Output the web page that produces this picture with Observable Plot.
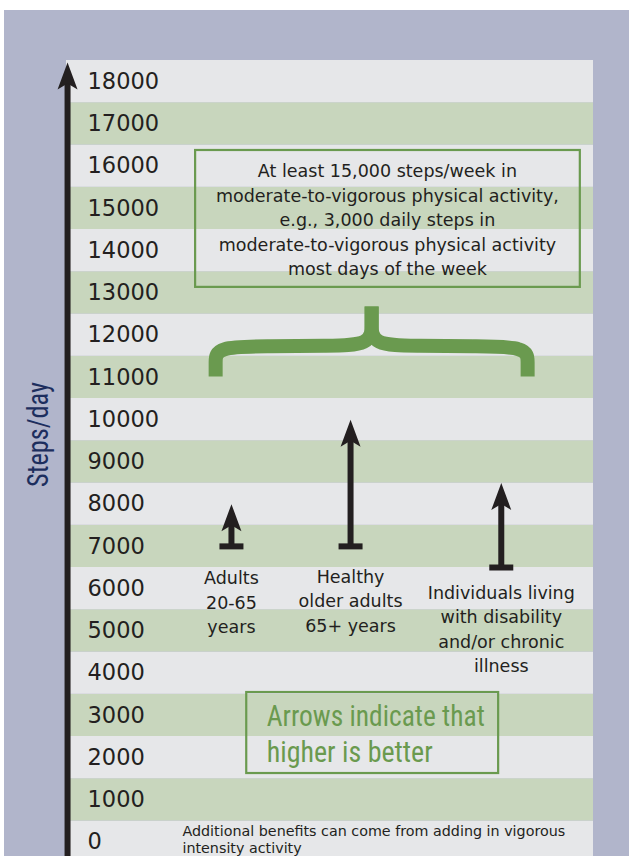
<!DOCTYPE html>
<html>
<head>
<meta charset="utf-8">
<script src="https://cdn.jsdelivr.net/npm/d3@7"></script>
<script src="https://cdn.jsdelivr.net/npm/@observablehq/plot@0.6"></script>
<style>
  html, body { margin: 0; padding: 0; background: #ffffff; overflow: hidden; }
  #chart { position: absolute; left: 4px; top: 10px; }
  #chart svg { display: block; }
</style>
</head>
<body>
<div id="chart"></div>
<script>
// ---------- data ----------
const ticks = [0, 1000, 2000, 3000, 4000, 5000, 6000, 7000, 8000, 9000,
               10000, 11000, 12000, 13000, 14000, 15000, 16000, 17000, 18000];
const groups = [
  "Adults\n20-65\nyears",
  "Healthy\nolder adults\n65+ years",
  "Individuals living\nwith disability\nand/or chronic\nillness"
];
const baseSteps = [7000, 7000, 6500];
const tipSteps = [8000, 10000, 8500];
const yLabel = "Steps/day";
const boxText = "At least 15,000 steps/week in\nmoderate-to-vigorous physical activity,\ne.g., 3,000 daily steps in\nmoderate-to-vigorous physical activity\nmost days of the week";
const noteLines = ["Arrows indicate that", "higher is better"];
const footnote = "Additional benefits can come from adding in vigorous\nintensity activity";

// ---------- layout (x in % of panel width, y in steps/day) ----------
const layout = {
  groupX: [31.3, 53.9, 82.5],
  labelY: [6515, 6555, 6175],
  axisX: 0.2,
  axisTip: 18450,
  box: {x1: 24.5, x2: 97.5, y1: 13130, y2: 16370, textX: 60.9, textY: 14760},
  note: {x1: 34.2, x2: 82.0, y1: 1624, y2: 3541, textX: 38.0, lineY: [2973, 2122]},
  footX: 22.0,
  footY: 65,
  yLabelY: 9648
};
// brace control polygon (left half), mirrored about the tip
const braceHalf = [
  [28.3, 11021], [28.3, 11352], [28.3, 11731], [38.7, 11731],
  [49.1, 11754], [57.9, 11754], [57.9, 12299], [57.9, 12678]
];
const braceMid = 57.9;

const dark = "#231f20";
const green = "#6a9a4f";
const navy = "#1d2e5e";
const sans = "'DejaVu Sans', sans-serif";
const narrow = "'Liberation Sans Narrow', 'Arial Narrow', 'Roboto Condensed', sans-serif";

const rows = groups.map((g, i) => ({label: g, x: layout.groupX[i], base: baseSteps[i], tip: tipSteps[i], ly: layout.labelY[i]}));
const stripes = ticks.map(v => ({v, fill: (v / 1000) % 2 === 0 ? "#e6e7e9" : "#c8d6bd"}));
const braceShape = [
  ...braceHalf.map(([x, y]) => ({side: "L", x, y})),
  ...braceHalf.map(([x, y]) => ({side: "R", x: 2 * braceMid - x, y}))
];

const arrowHead = {draw(ctx) { ctx.moveTo(0, 0); ctx.lineTo(10, 27); ctx.lineTo(0, 21); ctx.lineTo(-10, 27); ctx.closePath(); }};
const baseBar = {draw(ctx) { ctx.rect(-12, -3, 24, 6); }};

const chart = Plot.plot({
  width: 625,
  height: 846,
  marginTop: 50,
  marginBottom: 0,
  marginLeft: 62,
  marginRight: 36,
  x: {domain: [0, 100], axis: null},
  y: {domain: [-340, 18500], axis: null},
  color: {type: "identity"},
  style: {background: "#b1b5cb", fontFamily: sans, color: dark},
  marks: [
    Plot.rect(stripes, {y1: d => d.v - 500, y2: d => d.v + 500, fill: "fill", clip: true}),
    Plot.axisY({ticks, tickSize: 0, tickPadding: 0, textAnchor: "start", dx: 21, fontSize: 22.5, fill: dark, tickFormat: d => String(d)}),
    // axis arrow
    Plot.ruleX([layout.axisX], {x: d => d, y1: layout.axisTip, y2: -340, insetTop: 20, stroke: dark, strokeWidth: 6}),
    Plot.dot([layout.axisX], {x: d => d, y: layout.axisTip, symbol: arrowHead, fill: dark, stroke: null}),
    Plot.text([yLabel], {frameAnchor: "left", y: layout.yLabelY, dx: -28, rotate: -90, textAnchor: "middle", fontSize: 30, fill: navy, fontFamily: narrow}),
    // guideline box
    Plot.rect([0], {x1: layout.box.x1, x2: layout.box.x2, y1: layout.box.y1, y2: layout.box.y2, fill: "none", stroke: green, strokeWidth: 2.2}),
    Plot.text([boxText], {x: layout.box.textX, y: layout.box.textY, fontSize: 17.5, lineHeight: 1.4, fill: dark, textAnchor: "middle"}),
    // brace
    Plot.line(braceShape, {x: "x", y: "y", z: "side", curve: "basis", stroke: green, strokeWidth: 14, strokeLinecap: "butt", strokeLinejoin: "miter"}),
    // group arrows
    Plot.ruleX(rows, {x: "x", y1: "tip", y2: "base", insetTop: 20, stroke: dark, strokeWidth: 6}),
    Plot.dot(rows, {x: "x", y: "tip", symbol: arrowHead, fill: dark, stroke: null}),
    Plot.dot(rows, {x: "x", y: "base", symbol: baseBar, fill: dark, stroke: null}),
    Plot.text(rows, {x: "x", y: "ly", text: "label", lineAnchor: "top", fontSize: 17.5, lineHeight: 1.4, fill: dark, textAnchor: "middle"}),
    // note box
    Plot.rect([0], {x1: layout.note.x1, x2: layout.note.x2, y1: layout.note.y1, y2: layout.note.y2, fill: "none", stroke: green, strokeWidth: 2.2}),
    Plot.text(noteLines, {x: layout.note.textX, y: (d, i) => layout.note.lineY[i], textAnchor: "start", fontSize: 30, fill: green, fontFamily: narrow}),
    // footnote
    Plot.text([footnote], {x: layout.footX, y: layout.footY, textAnchor: "start", fontSize: 14.3, lineHeight: 1.18, fill: dark})
  ]
});

document.getElementById("chart").appendChild(chart);

// fit condensed texts to the reference widths
const targetLen = {"Arrows indicate that": 218, "higher is better": 166, "Steps/day": 105};
chart.querySelectorAll("text").forEach(t => {
  const len = targetLen[t.textContent];
  if (len) { t.setAttribute("textLength", len); t.setAttribute("lengthAdjust", "spacingAndGlyphs"); }
});
</script>
</body>
</html>
